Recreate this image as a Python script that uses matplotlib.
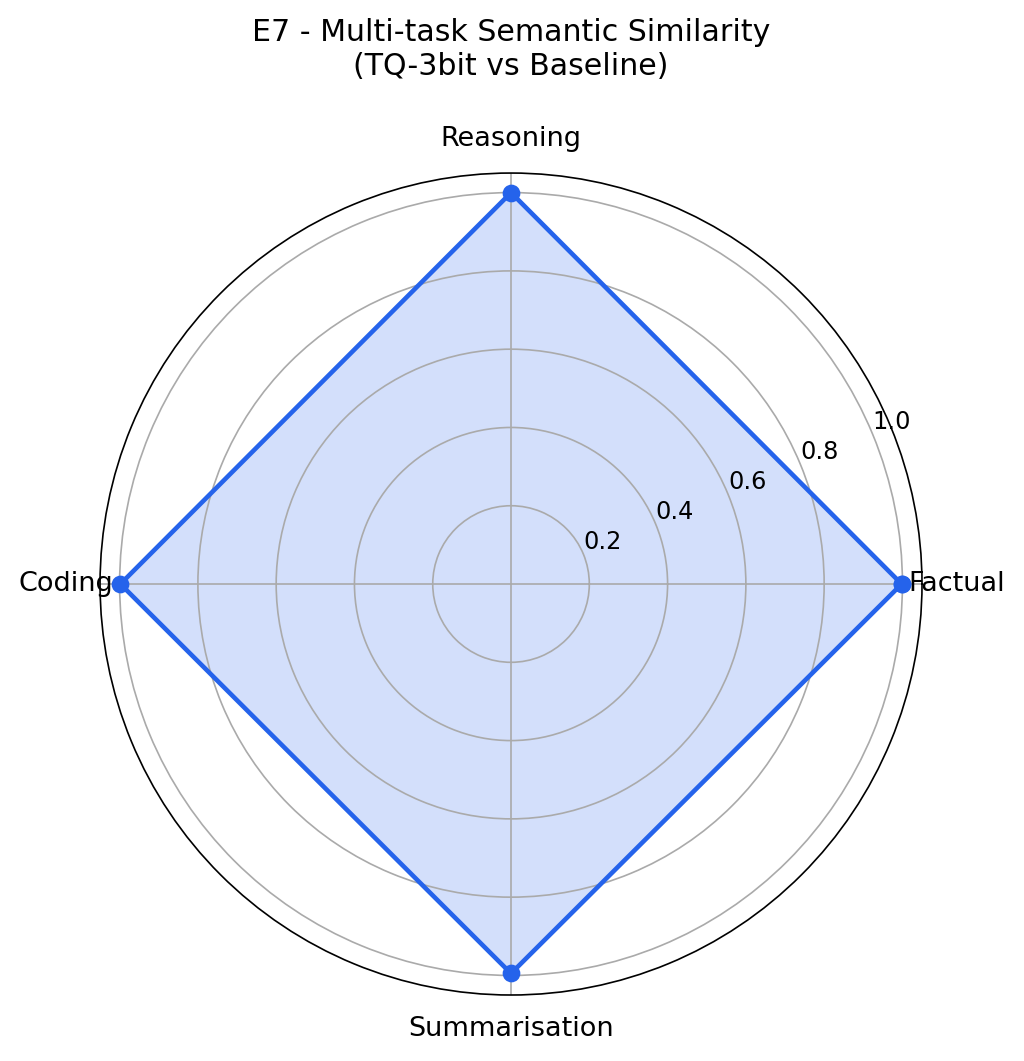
import numpy as np
import matplotlib
matplotlib.use("Agg")
import matplotlib.pyplot as plt

categories = ["Factual", "Reasoning", "Coding", "Summarisation"]
similarity = [0.998, 1.0, 0.998, 0.995]
rticks = [0.2, 0.4, 0.6, 0.8, 1.0]
rtick_labels = ["0.2", "0.4", "0.6", "0.8", "1.0"]

color = "#2563eb"

fig = plt.figure(figsize=(1024 / 150, 1061 / 150), dpi=150)
ax = fig.add_axes([0.0977, 0.0622, 0.8027, 0.7747], projection="polar")

angles = np.linspace(0, 2 * np.pi, len(categories), endpoint=False)
a_closed = np.concatenate([angles, angles[:1]])
v_closed = np.concatenate([similarity, similarity[:1]])

ax.fill(a_closed, v_closed, color=color, alpha=0.2, lw=0)
ax.plot(a_closed, v_closed, color=color, lw=2.2, marker="o", markersize=7.5)

ax.set_xticks(angles)
ax.set_xticklabels(categories, fontsize=13)
ax.tick_params(axis="x", pad=6)
ax.set_ylim(0, 1.05)
ax.set_yticks(rticks)
ax.set_yticklabels(rtick_labels, fontsize=11.5)
ax.set_rlabel_position(22.5)
ax.grid(color="#aaaaaa", linewidth=0.8)
ax.set_title("E7 - Multi-task Semantic Similarity\n(TQ-3bit vs Baseline)", fontsize=14.4, pad=24.5)

fig.savefig("out.png", dpi=150)
